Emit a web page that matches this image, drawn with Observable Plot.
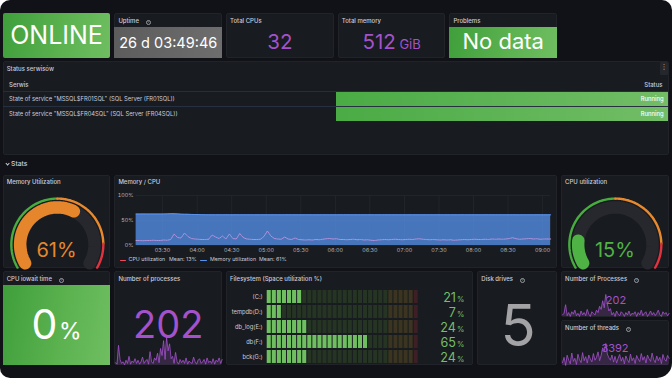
<!DOCTYPE html>
<html><head><meta charset="utf-8">
<script src="https://cdn.jsdelivr.net/npm/d3@7"></script>
<script src="https://cdn.jsdelivr.net/npm/@observablehq/plot@0.6"></script>
<style>
html,body{margin:0;padding:0;background:#fff;}
#dash{position:relative;width:672px;height:378px;background:#111217;border-radius:10px 10px 15px 10px;overflow:hidden;font-family:Inter,"Noto Sans",sans-serif;color:#ccccdc;}
#dash div{box-sizing:border-box;}
.info{display:inline-block;width:5px;height:5px;border:0.7px solid #9a9aa3;border-radius:50%;margin-left:7px;vertical-align:0px;font-size:3.6px;line-height:3.8px;text-align:center;color:#9a9aa3;font-weight:600;box-sizing:border-box;}
svg{overflow:visible}
</style></head><body><div id="dash"></div>
<script>
// ---------------- DATA ----------------
const onlineText = "ONLINE";
const uptimeText = "26 d 03:49:46";
const totalCpus = 32;
const totalMemory = 512;
const totalMemoryUnit = "GiB";
const problemsText = "No data";

const services = [
  'State of service "MSSQL$FR01SQL" (SQL Server (FR01SQL))',
  'State of service "MSSQL$FR04SQL" (SQL Server (FR04SQL))'
];
const serviceStatus = ["Running", "Running"];

const memoryUtilization = 61;
const cpuUtilization = 15;
const gaugeThresholds = [0, 50, 87];
const gaugeThresholdColors = ["#48ad3f", "#e8892e", "#e0323f"];

// Memory / CPU time series, 3-minute samples from 03:07 to 09:07
const seriesStart = "2024-01-01T03:07:00Z";
const cpuSeries = [
  10,10,9.5,10,10,10.5,10,10,11,10.5,
  12,23,16,15,25,18,14,13,12.5,12,
  12,12.5,21,17,14,19,13,23,14,13,
  24,16,13,12.5,12,12,12.5,18,29,19,
  14,13,12.5,17,13,12,15,12,11.5,11,
  11.5,11,12,11.5,12.5,13.5,14,13,13.5,12,
  12,11.5,12,12.5,11.5,12,11,11.5,10.5,10,
  11,11.5,12,11.5,12,12.5,12,11.5,12,12.5,
  12,13,13.5,12.5,12,11.5,12,11.5,11,11.5,
  11,11.5,10.5,11,11.5,12,11.5,12,12.5,12,
  12,12.5,12,13,12.5,13,12.5,13,14,15.5,
  13.5,12.5,13,13.5,14,13,13.5,12.5,13,13,13
];
const memorySeries = [
  62.8,62.8,62.9,62.8,62.8,62.9,62.8,62.8,62.9,63.2,
  63.6,63.5,63.2,62.6,62.4,62.3,62.2,62.0,61.8,61.6,
  61.4,61.4,61.3,61.4,61.3,61.3,61.4,61.3,61.3,61.4,
  61.3,61.3,61.4,61.3,61.3,61.3,61.4,61.3,61.3,61.3,
  61.4,61.3,61.3,61.3,61.4,61.3,61.3,61.3,61.3,61.4,
  61.3,61.3,61.3,61.3,61.4,61.3,61.3,61.3,61.3,61.3,
  61.3,61.4,61.3,61.3,61.3,61.3,61.3,61.4,61.3,61.3,
  61.3,61.3,61.3,61.4,61.3,61.3,61.3,61.3,61.3,61.3,
  61.4,61.3,61.3,61.3,61.3,61.3,61.3,61.4,61.3,61.3,
  61.3,61.3,61.3,61.3,61.4,61.3,61.3,61.3,61.3,61.3,
  61.3,61.3,61.4,61.3,61.3,61.3,61.3,61.3,61.3,61.4,
  61.3,61.3,61.3,61.3,61.3,61.3,61.4,61.3,61.3,61.3,61.3
];
const timeTickLabels = ["03:30","04:00","04:30","05:00","05:30","06:00","06:30","07:00","07:30","08:00","08:30","09:00"];
const yTickValues = [0, 50, 100];
const cpuMean = 13, memMean = 61;

const iowaitValue = 0;
const processCount = 202;
const threadCount = 3392;
const diskDrives = 5;

const fsLabels = ["(C:)", "tempdb(D:)", "db_log(E:)", "db(F:)", "bck(G:)"];
const fsValues = [21, 7, 24, 65, 24];
const fsThresholds = [80, 95];
const fsCellCount = 30;

const processSpark = [200,198,222,204,199,201,197,203,199,208,198,202,200,205,199,203,198,201,207,199,202,204,198,214,201,199,206,203,212,200,218,209,228,204,232,215,224,205,208,199,213,201,198,204,200,203,199,206,198,202,200,199,207,201,198,203,205,199,201,204,198,206,200,202,199,205,198,203,201,206,199,204];
const processSparkSmall = [201,203,214,200,204,199,205,202,207,200,203,199,206,201,204,200,208,202,199,205,203,201,207,204,212,208,219,210,227,215,206,209,201,204,199,206,202,200,205,203,199,204,201,206,200,203,202,205,199,204,201,207,200,203,205,199,202,206,201,204,200,203,207,201,199,205,202,204,200,203];
const threadSpark = [3330,3352,3318,3361,3340,3325,3370,3335,3348,3322,3365,3342,3330,3372,3338,3355,3328,3362,3345,3333,3368,3340,3352,3375,3338,3360,3392,3380,3410,3366,3350,3340,3362,3332,3356,3328,3348,3364,3336,3352,3325,3358,3342,3330,3366,3338,3350,3326,3360,3345,3334,3368,3340,3355,3328,3362,3346,3335,3370,3342,3330,3358,3338,3352,3326,3364,3344,3336,3360,3348];

// ---------------- HELPERS ----------------
const dash = document.getElementById("dash");
const GX = 2.7, GC = 27.92;
const PURPLE = "#a352cc", GREEN_TXT = "#73bf69";
const GRAD_GREEN = "linear-gradient(100deg,#3f9f3b 0%,#5bb24f 55%,#6fbe61 100%)";

function div(x, y, w, h, css = "") {
  const d = document.createElement("div");
  d.style.cssText = `position:absolute;left:${x}px;top:${y}px;width:${w}px;height:${h}px;` + css;
  dash.appendChild(d); return d;
}
function text(x, base, parts, color, anchor = "middle", weight = 400, extra = "") {
  if (!Array.isArray(parts)) parts = [[parts, 6]];
  const maxSize = Math.max(...parts.map(p => p[1]));
  const d = document.createElement("div");
  const tx = anchor === "middle" ? "-50%" : anchor === "end" ? "-100%" : "0";
  d.style.cssText = `position:absolute;left:${x}px;top:${base - 0.864 * maxSize}px;line-height:1;color:${color};font-weight:${weight};white-space:nowrap;transform:translateX(${tx});font-size:${maxSize}px;` + extra;
  parts.forEach(([s, size, css]) => {
    const sp = document.createElement("span");
    sp.textContent = s; sp.style.fontSize = size + "px";
    if (css) sp.style.cssText += css;
    d.appendChild(sp);
  });
  dash.appendChild(d); return d;
}
function panel(c, s, y, h, title, info, css = "") {
  const x = GX + c * GC, w = s * GC - 4;
  div(x, y, w, h, "background:#181b1f;border:1px solid #202328;border-radius:2px;" + css);
  if (title) {
    const t = text(x + 4, y + 10, title, "#ccccdc", "start", 500, "font-size:6px;");
    t.firstChild.style.fontSize = "6px";
    if (info) { const i = document.createElement("span"); i.className = "info"; i.textContent = "i"; t.appendChild(i); }
  }
  return { x, y, w, h };
}
function mount(x, y, node) {
  const d = div(x, y, node.getAttribute ? +node.getAttribute("width") : 0, 0, "");
  d.style.height = "auto"; d.appendChild(node); return d;
}

// ---------------- TOP ROW ----------------
{
  const p = panel(0, 4, 12.7, 45, null, false, "background:" + GRAD_GREEN + ";border:none;");
  text(p.x + p.w / 2, 45, [[onlineText, 25]], "#fff");
}
{
  const p = panel(4, 4, 12.7, 45, "Uptime", true);
  div(p.x, 27.3, p.w, 30.4, "background:linear-gradient(100deg,#5c5c5c,#6e6e6e);");
  text(p.x + p.w / 2, 48.3, [[uptimeText, 14.5]], "#fff");
}
{
  const p = panel(8, 4, 12.7, 45, "Total CPUs", false);
  text(p.x + p.w / 2, 50, [[String(totalCpus), 20.5]], PURPLE);
}
{
  const p = panel(12, 4, 12.7, 45, "Total memory", false);
  text(p.x + p.w / 2, 50, [[String(totalMemory), 20.5], [" " + totalMemoryUnit, 13]], PURPLE);
}
{
  const p = panel(16, 4, 12.7, 45, "Problems", false);
  div(p.x, 27.3, p.w, 30.4, "background:" + GRAD_GREEN + ";");
  text(p.x + p.w / 2, 49.3, [[problemsText, 22]], "#fff");
}

// ---------------- STATUS TABLE ----------------
{
  const p = panel(0, 24, 61, 94, "Status serwisów", false);
  div(660, 62, 8, 12.5, "background:#25272d;border-radius:1.5px;");
  text(664, 70.5, [["⋮", 7]], "#ccccdc", "middle", 400, "font-family:'DejaVu Sans';");
  text(9, 87.3, [["Serwis", 6]], "#ccccdc", "start", 500);
  text(662.5, 87.3, [["Status", 6]], "#ccccdc", "end", 500);
  div(p.x + 0.5, 91, p.w - 1, 0.8, "background:#2a2d33;");
  services.forEach((s, i) => {
    const y0 = 91.6 + i * 15.2;
    div(336, y0, 331.6, 14.6, "background:linear-gradient(90deg,#4aab44,#72bd66);");
    if (i > 0) div(p.x + 0.5, y0 - 0.6, p.w - 1, 0.8, "background:#263040;");
    text(9, y0 + 9.6, [[s, 5.8]], "#ccccdc", "start");
    text(663.5, y0 + 9.6, [[serviceStatus[i], 5.8]], "#fff", "end", 500);
  });
}
// Stats row
div(6.2, 162.2, 3.2, 3.2, "border-right:0.9px solid #ccccdc;border-bottom:0.9px solid #ccccdc;transform:rotate(45deg);");
text(11, 166.8, [["Stats", 6.8]], "#ccccdc", "start", 500);

// ---------------- GAUGES ----------------
function gauge(p, value, color) {
  const W = p.w, H = p.h, cx = W / 2, cy = 69.1;
  const A0 = 210, SPAN = 240;
  const arc = (r, f0, f1) => d3.range(0, 81).map(i => {
    const f = f0 + (f1 - f0) * i / 80, a = (A0 - SPAN * f) * Math.PI / 180;
    return { x: cx + r * Math.cos(a), y: cy - r * Math.sin(a) };
  });
  const ringMarks = gaugeThresholds.map((t, i) =>
    Plot.line(arc(46, t / 100, (gaugeThresholds[i + 1] ?? 100) / 100), { x: "x", y: "y", stroke: gaugeThresholdColors[i], strokeWidth: 2.4 }));
  const svg = Plot.plot({
    width: W, height: H, margin: 0,
    x: { domain: [0, W], range: [0, W], axis: null },
    y: { domain: [0, H], range: [0, H], axis: null },
    style: { background: "transparent" },
    marks: [
      Plot.line(arc(37.2, 0, 1), { x: "x", y: "y", stroke: "#26282d", strokeWidth: 12.5 }),
      Plot.line(arc(37.2, 0, value / 100), { x: "x", y: "y", stroke: color, strokeWidth: 12.5 }),
      ...ringMarks
    ]
  });
  mount(p.x, p.y, svg);
  text(p.x + W / 2, 257.3, [[value + "%", 20]], color);
}
{
  const p = panel(0, 4, 174.5, 93.2, "Memory Utilization", false);
  gauge(p, memoryUtilization, "#e5862c");
}
{
  const p = panel(20, 4, 174.5, 93.2, "CPU utilization", false);
  gauge(p, cpuUtilization, "#4fb245");
}

// ---------------- MEMORY / CPU TIMESERIES ----------------
{
  const p = panel(4, 16, 174.5, 93.2, "Memory / CPU", false);
  const t0 = new Date(seriesStart);
  const cpu = cpuSeries.map((v, i) => ({ t: d3.utcMinute.offset(t0, 3 * i), v }));
  const mem = memorySeries.map((v, i) => ({ t: d3.utcMinute.offset(t0, 3 * i), v }));
  const parseHM = d3.utcParse("%Y-%m-%d %H:%M");
  const ticks = timeTickLabels.map(s => parseHM("2024-01-01 " + s));
  const svg = Plot.plot({
    width: 443, height: 67, marginLeft: 21.6, marginRight: 6.8, marginTop: 7, marginBottom: 10,
    x: { type: "utc", domain: [cpu[0].t, cpu[cpu.length - 1].t], ticks, tickFormat: d3.utcFormat("%H:%M"), tickSize: 0, tickPadding: 2.6, label: null },
    y: { domain: [0, 100], ticks: yTickValues, tickFormat: d => d + "%", tickSize: 0, tickPadding: 2.6, label: null },
    style: { background: "transparent", fontFamily: "Inter", fontSize: "5.4px", color: "#b4b5bf" },
    marks: [
      Plot.ruleX(ticks, { stroke: "#25282e", strokeWidth: 0.8 }),
      Plot.ruleY(yTickValues, { stroke: "#25282e", strokeWidth: 0.8 }),
      Plot.areaY(mem, { x: "t", y: "v", fill: "#5794f2", fillOpacity: 0.74 }),
      Plot.lineY(mem, { x: "t", y: "v", stroke: "#5b92ee", strokeWidth: 1 }),
      Plot.lineY(cpu, { x: "t", y: "v", stroke: "#bf95df", strokeWidth: 0.9, strokeDasharray: "1.4 0.9" })
    ]
  });
  mount(p.x, 188, svg);
  // legend
  div(120, 259.6, 6, 1.3, "background:#f2495c;border-radius:1px;");
  text(128.6, 262, [["CPU utilization", 5.3]], "#ccccdc", "start");
  text(169, 262, [["Mean: " + cpuMean + "%", 5.3]], "#ccccdc", "start");
  div(200.3, 259.6, 6.3, 1.3, "background:#5794f2;border-radius:1px;");
  text(210, 262, [["Memory utilization", 5.3]], "#ccccdc", "start");
  text(259, 262, [["Mean: " + memMean + "%", 5.3]], "#ccccdc", "start");
}

// ---------------- BOTTOM ROW ----------------
{
  const p = panel(0, 4, 271, 94, "CPU iowait time", true);
  div(p.x, 285.3, p.w, 79.7, "background:" + GRAD_GREEN + ";");
  text(p.x + p.w / 2, 339.7, [[String(iowaitValue), 41], ["%", 23, "margin-left:1.5px"]], "#fff");
}
function spark(x, y, w, h, data, strokeW) {
  const lo = d3.min(data), hi = d3.max(data);
  const svg = Plot.plot({
    width: w, height: h, margin: 0,
    x: { domain: [0, data.length - 1], axis: null },
    y: { domain: [lo, hi], axis: null },
    style: { background: "transparent" },
    marks: [
      Plot.areaY(data, { x: (d, i) => i, y1: () => lo, y2: d => d, fill: PURPLE, fillOpacity: 0.22 }),
      Plot.lineY(data, { x: (d, i) => i, y: d => d, stroke: PURPLE, strokeWidth: strokeW })
    ]
  });
  mount(x, y, svg);
}
{
  const p = panel(4, 4, 271, 94, "Number of processes", false);
  spark(p.x + 0.5, 337, p.w - 1, 27.5, processSpark, 0.8);
  text(p.x + p.w / 2, 338, [[String(processCount), 38]], PURPLE);
}
{
  const p = panel(8, 9, 271, 94, "Filesystem (Space utilization %)", false);
  const fsRows = fsLabels.map((d, j) => ({ drive: d, v: fsValues[j] }));
  const litColors = ["#6fbe60", "#e0b400", "#f2495c"];
  const dimColors = ["#253423", "#3a3420", "#3d1f25"];
  const cells = fsLabels.flatMap((d, j) => d3.range(fsCellCount).map(i => {
    const s = i * 100 / fsCellCount;
    const band = s >= fsThresholds[1] ? 2 : s >= fsThresholds[0] ? 1 : 0;
    return { drive: d, x1: s, x2: s + 100 / fsCellCount, fill: s < fsValues[j] ? litColors[band] : dimColors[band] };
  }));
  const svg = Plot.plot({
    width: p.w, height: 76, marginLeft: 40.2, marginRight: 55, marginTop: 1, marginBottom: 0,
    x: { domain: [0, 100], axis: null },
    y: { domain: fsLabels, paddingInner: 0.16, paddingOuter: 0, tickSize: 0, tickPadding: 4, label: null },
    color: { type: "identity" },
    style: { background: "transparent", fontFamily: "Inter", fontSize: "5.8px", color: "#ccccdc" },
    marks: [
      Plot.barX(cells, { x1: "x1", x2: "x2", y: "drive", fill: "fill", insetLeft: 0.5, insetRight: 0.5 }),
      Plot.text(fsRows, { y: "drive", text: d => String(d.v), frameAnchor: "right", textAnchor: "end", dx: 37.2, dy: 0.5, fill: GREEN_TXT, fontSize: 12.6 }),
      Plot.text(fsRows, { y: "drive", text: () => "%", frameAnchor: "right", textAnchor: "start", dx: 38.2, dy: 2.6, fill: GREEN_TXT, fontSize: 7.5 })
    ]
  });
  mount(p.x, 288, svg);
}
{
  const p = panel(17, 3, 271, 94, "Disk drives", true);
  text(p.x + p.w / 2 + 1, 346, [[String(diskDrives), 58]], "#a3a3a6");
}
{
  const p = panel(20, 4, 271, 45.5, "Number of Processes", true);
  spark(p.x + 0.5, 294, p.w - 1, 22, processSparkSmall, 0.8);
  text(p.x + p.w / 2 + 1, 305, [[String(processCount), 11]], PURPLE);
}
{
  const p = panel(20, 4, 320.3, 44.7, "Number of threads", true);
  spark(p.x + 0.5, 342.5, p.w - 1, 22, threadSpark, 0.8);
  text(p.x + p.w / 2, 353, [[String(threadCount), 11]], PURPLE);
}
</script></body></html>
